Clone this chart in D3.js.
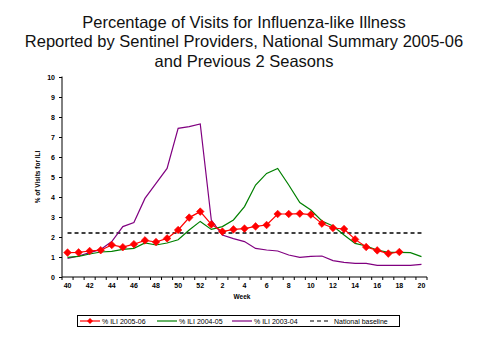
<!DOCTYPE html>
<html><head><meta charset="utf-8">
<script src="https://cdn.jsdelivr.net/npm/d3@7"></script>
<style>body{margin:0;background:#fff}svg{display:block}</style>
</head><body><svg id="c" width="480" height="360"></svg>
<script>
const weeks = [40,41,42,43,44,45,46,47,48,49,50,51,52,1,2,3,4,5,6,7,8,9,10,11,12,13,14,15,16,17,18,19,20];
const tickLabels = [40,42,44,46,48,50,52,2,4,6,8,10,12,14,16,18,20];
const yTicks = [0,1,2,3,4,5,6,7,8,9,10];
const ili0506 = [1.22,1.23,1.30,1.34,1.60,1.49,1.64,1.83,1.75,1.93,2.35,2.97,3.27,2.63,2.27,2.38,2.42,2.53,2.60,3.15,3.15,3.17,3.12,2.67,2.45,2.40,1.88,1.50,1.33,1.17,1.25];
const ili0405 = [0.98,1.03,1.15,1.25,1.28,1.38,1.43,1.70,1.60,1.70,1.86,2.35,2.78,2.38,2.52,2.85,3.52,4.60,5.18,5.43,4.60,3.72,3.35,2.80,2.55,2.10,1.68,1.55,1.35,1.23,1.23,1.22,1.02];
const ili0304 = [0.93,1.05,1.22,1.38,1.77,2.52,2.72,3.93,4.68,5.43,7.43,7.52,7.65,2.85,2.10,1.92,1.77,1.43,1.35,1.30,1.10,0.98,1.03,1.05,0.82,0.73,0.68,0.68,0.58,0.58,0.58,0.58,0.63];
const baseline = 2.2;
const titleLines = ["Percentage of Visits for Influenza-like Illness","Reported by Sentinel Providers, National Summary 2005-06","and Previous 2 Seasons"];
const legendLabels = ["% ILI 2005-06","% ILI 2004-05","%  ILI 2003-04","National baseline"];

const svg = d3.select("#c");
const L = 62, R = 427, T = 77, B = 277;
const x = d3.scaleBand().domain(weeks).range([L, R]).paddingInner(0).paddingOuter(0);
const bw = x.bandwidth();
const cx = w => x(w) + bw/2;
const y = d3.scaleLinear().domain([0,10]).range([B, T]);

// title
svg.append("g").selectAll("text").data(titleLines).join("text")
  .attr("x", 244).attr("y", (d,i)=>28 + i*19.3)
  .attr("text-anchor","middle")
  .attr("font-family","Liberation Sans, Arial, sans-serif")
  .attr("font-size", 16.5).attr("fill","#111").text(d=>d);

// y axis
const yAxis = d3.axisLeft(y).tickValues(yTicks).tickSize(3).tickFormat(d3.format("d"));
const gy = svg.append("g").attr("transform",`translate(${L},0)`).call(yAxis);
gy.select(".domain").attr("stroke","#000").attr("d",`M0,${B}V${T-0.5}`);
gy.selectAll(".tick line").attr("stroke","#000");
gy.selectAll(".tick text").attr("x",-7).attr("font-family","Liberation Sans, Arial, sans-serif")
  .attr("font-weight","bold").attr("font-size",7).attr("fill","#000");

// x axis
const xAxis = d3.axisBottom(x).tickValues(tickLabels).tickSize(0).tickPadding(6);
const gx = svg.append("g").attr("transform",`translate(0,${B})`).call(xAxis);
gx.select(".domain").attr("stroke","#000").attr("d",`M${L},0H${R}`);
gx.selectAll(".tick text").attr("font-family","Liberation Sans, Arial, sans-serif")
  .attr("font-weight","bold").attr("font-size",7).attr("fill","#000");
// category boundary ticks
gx.append("g").selectAll("line").data(weeks.map(w=>x(w)).concat([R])).join("line")
  .attr("x1",d=>d).attr("x2",d=>d).attr("y1",0).attr("y2",3).attr("stroke","#000");

// axis titles
svg.append("text").attr("x",242).attr("y",299).attr("text-anchor","middle")
  .attr("font-family","Liberation Sans, Arial, sans-serif").attr("font-weight","bold")
  .attr("font-size",6.5).text("Week");
svg.append("text").attr("transform","translate(40,177) rotate(-90)").attr("text-anchor","middle")
  .attr("font-family","Liberation Sans, Arial, sans-serif").attr("font-weight","bold")
  .attr("font-size",6.5).text("% of Visits for ILI");

const line = d3.line().x((d,i)=>cx(weeks[i])).y(d=>y(d));

// baseline
svg.append("line").attr("x1",cx(weeks[0])).attr("x2",cx(weeks[weeks.length-1]))
  .attr("y1",y(baseline)).attr("y2",y(baseline)).attr("stroke","#000")
  .attr("stroke-width",1.3).attr("stroke-dasharray","4,3");

svg.append("path").datum(ili0304).attr("d",line).attr("fill","none").attr("stroke","#800080").attr("stroke-width",1.2);
svg.append("path").datum(ili0405).attr("d",line).attr("fill","none").attr("stroke","#008000").attr("stroke-width",1.2);
svg.append("path").datum(ili0506).attr("d",line).attr("fill","none").attr("stroke","#ff0000").attr("stroke-width",1.2);

const diamond = "M0,-3.8L3.8,0L0,3.8L-3.8,0Z";
svg.append("g").selectAll("path").data(ili0506).join("path")
  .attr("transform",(d,i)=>`translate(${cx(weeks[i])},${y(d)})`)
  .attr("d",diamond).attr("fill","#ff0000").attr("stroke","#ff0000").attr("stroke-width",0.6);

// legend
const lg = svg.append("g");
lg.append("rect").attr("x",77.5).attr("y",315.5).attr("width",322).attr("height",11)
  .attr("fill","#fff").attr("stroke","#000").attr("stroke-width",1);
const items = [
  {x1:80,x2:100,tx:102,color:"#ff0000",dash:null,marker:true},
  {x1:157,x2:177,tx:179,color:"#008000",dash:null},
  {x1:232,x2:252,tx:254,color:"#800080",dash:null},
  {x1:310,x2:330,tx:334,color:"#000",dash:"4,3"}
];
items.forEach((it,i)=>{
  lg.append("line").attr("x1",it.x1).attr("x2",it.x2).attr("y1",321).attr("y2",321)
    .attr("stroke",it.color).attr("stroke-width",1.2).attr("stroke-dasharray",it.dash);
  if(it.marker) lg.append("path").attr("d","M0,-3L3,0L0,3L-3,0Z").attr("transform",`translate(${(it.x1+it.x2)/2},321)`).attr("fill","#ff0000");
  lg.append("text").attr("x",it.tx).attr("y",323.5).attr("font-family","Liberation Sans, Arial, sans-serif")
    .attr("font-size",7).attr("fill","#000").text(legendLabels[i]);
});
</script></body></html>
